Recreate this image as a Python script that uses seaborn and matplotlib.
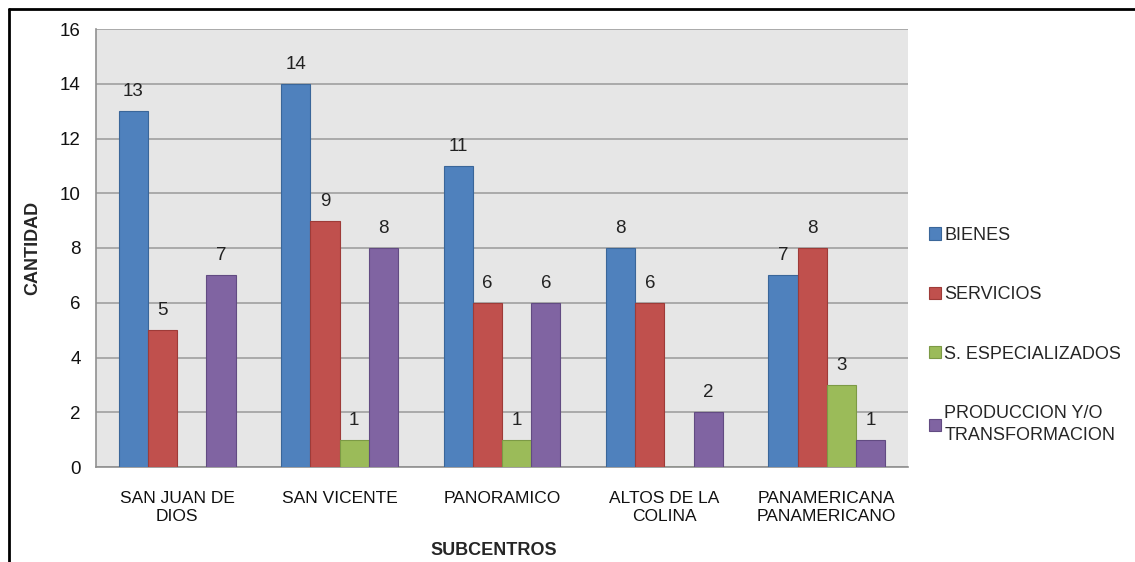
import numpy as np
import pandas as pd
import seaborn as sns
from matplotlib import pyplot as plt
from matplotlib.lines import Line2D

subcentros = ["SAN JUAN DE\nDIOS", "SAN VICENTE", "PANORAMICO", "ALTOS DE LA\nCOLINA", "PANAMERICANA\nPANAMERICANO"]
series = ["BIENES", "SERVICIOS", "S. ESPECIALIZADOS", "PRODUCCION Y/O\nTRANSFORMACION"]
bienes = [13, 14, 11, 8, 7]
servicios = [5, 9, 6, 6, 8]
especializados = [0, 1, 1, 0, 3]
produccion = [7, 8, 6, 2, 1]

colors = ["#4F81BD", "#C0504D", "#9BBB59", "#8064A2"]
edges = ["#3A6699", "#9E3B38", "#7C9A45", "#624B82"]

rows = []
for name, vals in zip(series, [bienes, servicios, especializados, produccion]):
	for sc, v in zip(subcentros, vals):
		rows.append({"subcentro": sc, "tipo": name, "cantidad": v})
df = pd.DataFrame(rows)

sns.set_style("white")
plt.rcParams['font.family'] = ['Liberation Sans', 'DejaVu Sans']

fig = plt.figure(figsize=(11.35, 5.62), dpi=100)
ax = fig.add_axes([96/1135, 1-467/562, (908-96)/1135, (467-29)/562])
ax.set_facecolor("#E6E6E6")

sns.barplot(data=df, x="subcentro", y="cantidad", hue="tipo", order=subcentros,
			hue_order=series, palette=colors, width=0.72, ax=ax, zorder=3,
			linewidth=0.8, saturation=1)

for cont, ec in zip(ax.containers, edges):
	for patch in cont:
		patch.set_edgecolor(ec)
	labels = [str(int(p.get_height())) if p.get_height() > 0 else "" for p in cont]
	ax.bar_label(cont, labels=labels, padding=8, fontsize=13.5, color="#222222")

ax.set_ylim(0, 16)
ax.set_yticks(np.arange(0, 17, 2))
ax.set_xlim(-0.5, 4.5)
ax.yaxis.grid(True, color="#A0A0A0", linewidth=1.2, zorder=0)
ax.set_axisbelow(True)
for s in ["top", "right"]:
	ax.spines[s].set_visible(False)
for s in ["left", "bottom"]:
	ax.spines[s].set_color("#909090")
	ax.spines[s].set_linewidth(1.2)

ax.set_xticks(range(len(subcentros)))
ax.set_xticklabels(subcentros, linespacing=1.3)
ax.set_xticks(np.arange(-0.5, 5, 1), minor=True)
ax.tick_params(axis="x", which="major", length=0, pad=17, labelsize=12.5, colors="#111111")
ax.tick_params(axis="x", which="minor", length=6, color="#909090", width=1.2)
ax.tick_params(axis="y", length=6, color="#909090", width=1.2, labelsize=13.5, colors="#111111", pad=5)

ax.set_ylabel("CANTIDAD", fontsize=13, fontweight="bold")
ax.yaxis.set_label_coords(-0.068, 0.5)
ax.set_xlabel("SUBCENTROS", fontsize=13, fontweight="bold")
ax.xaxis.set_label_coords(0.49, -0.172)

leg = ax.legend(loc="center left", bbox_to_anchor=(1.006, 0.30), frameon=False,
				fontsize=13, labelspacing=2.35, handlelength=0.65, handleheight=0.65,
				handletextpad=0.2)
for h, ec in zip(leg.legend_handles, edges):
	h.set_edgecolor(ec)
for t in leg.get_texts():
	t.set_linespacing(1.4)

fig.add_artist(Line2D([9/1135, 9/1135], [0, 1-9/562], color="black", linewidth=2, transform=fig.transFigure))
fig.add_artist(Line2D([9/1135, 1], [1-9/562, 1-9/562], color="black", linewidth=2, transform=fig.transFigure))

fig.savefig("out.png", dpi=100, facecolor="white")
